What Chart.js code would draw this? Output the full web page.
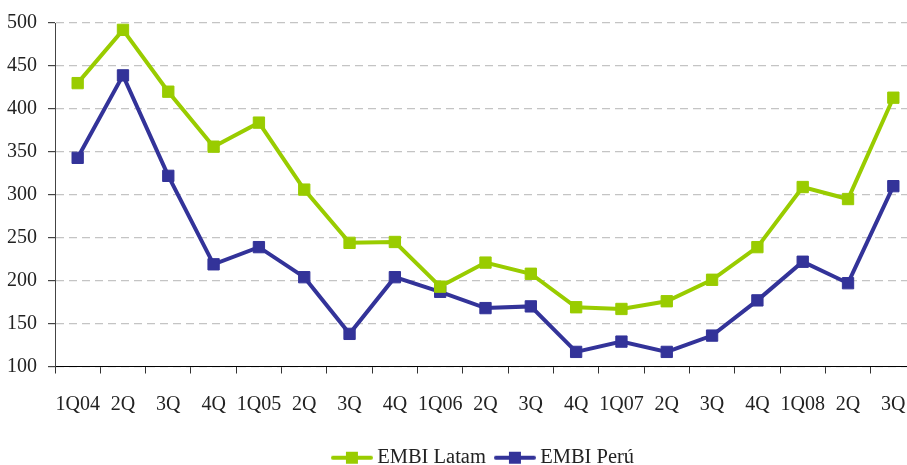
<!DOCTYPE html>
<html>
<head>
<meta charset="utf-8">
<script src="https://cdn.jsdelivr.net/npm/chart.js@4"></script>
<style>
html,body{margin:0;padding:0;background:#fff;overflow:hidden;}
#wrap{position:relative;width:925px;height:478px;}
</style>
</head>
<body>
<div id="wrap"><canvas id="c"></canvas></div>
<script>
const categories = ['1Q04','2Q','3Q','4Q','1Q05','2Q','3Q','4Q','1Q06','2Q','3Q','4Q','1Q07','2Q','3Q','4Q','1Q08','2Q','3Q'];
const embiLatam = [430, 492, 420, 356, 384, 306, 244, 245, 193, 221, 208, 169, 167, 176, 201, 239, 309, 295, 413];
const embiPeru  = [343, 439, 322, 219, 239, 204, 138, 204, 187, 168, 170, 117, 129, 117, 136, 177, 222, 197, 310];
const seriesNames = ['EMBI Latam', 'EMBI Perú'];
const yTicks = [100, 150, 200, 250, 300, 350, 400, 450, 500];

const COL_LATAM = '#99cc00';
const COL_PERU = '#333399';
const FONT = '"Liberation Serif", "Times New Roman", serif';

function legendIcon(color){
  const cv = document.createElement('canvas');
  cv.width = 42; cv.height = 14;
  const g = cv.getContext('2d');
  g.strokeStyle = color; g.lineWidth = 4; g.lineCap = 'round';
  g.beginPath(); g.moveTo(2, 7); g.lineTo(40, 7); g.stroke();
  g.fillStyle = color; g.fillRect(15, 1, 12, 12);
  return cv;
}

new Chart(document.getElementById('c'), {
  type: 'line',
  data: {
    labels: categories,
    datasets: [
      {label: seriesNames[0], data: embiLatam, borderColor: COL_LATAM, backgroundColor: COL_LATAM,
       borderWidth: 4, pointStyle: 'rect', pointRadius: 8, pointBorderWidth: 1, pointBackgroundColor: COL_LATAM, pointBorderColor: COL_LATAM, tension: 0},
      {label: seriesNames[1], data: embiPeru, borderColor: COL_PERU, backgroundColor: COL_PERU,
       borderWidth: 4, pointStyle: 'rect', pointRadius: 8, pointBorderWidth: 1, pointBackgroundColor: COL_PERU, pointBorderColor: COL_PERU, tension: 0}
    ]
  },
  options: {
    responsive: true,
    maintainAspectRatio: false,
    animation: false,
    layout: {padding: {top: 17, right: 0, left: 0, bottom: 0}},
    plugins: {
      tooltip: {enabled: false},
      legend: {
        position: 'bottom',
        fullSize: false,
        labels: {
          usePointStyle: true,
          pointStyleWidth: 30,
          padding: 14,
          color: '#222',
          font: {family: FONT, size: 20.5},
          generateLabels: (chart) => chart.data.datasets.map((ds, i) => ({
            text: ds.label,
            pointStyle: legendIcon(ds.borderColor),
            fillStyle: ds.borderColor,
            strokeStyle: ds.borderColor,
            lineWidth: 0,
            fontColor: '#222',
            hidden: false,
            datasetIndex: i
          }))
        }
      }
    },
    scales: {
      x: {
        offset: true,
        grid: {display: true, drawOnChartArea: false, drawTicks: true, offset: true, tickLength: 7, tickColor: '#333', tickWidth: 1},
        border: {display: true, color: '#000', width: 1},
        ticks: {autoSkip: false, maxRotation: 0, minRotation: 0, padding: 19, color: '#222', font: {family: FONT, size: 20}},
        afterFit: (s) => { s.height = 67; }
      },
      y: {
        min: 100, max: 500,
        afterBuildTicks: (s) => { s.ticks = yTicks.map(v => ({value: v})); },
        grid: {color: '#c4c4c4', lineWidth: 1.2, tickBorderDash: [], tickColor: '#444', tickLength: 7, drawTicks: true},
        border: {display: true, color: '#444', width: 1, dash: [8, 5]},
        ticks: {padding: 11, color: '#222', font: {family: FONT, size: 20}},
        afterFit: (s) => { s.width = 55; }
      }
    }
  }
});
</script>
</body>
</html>
